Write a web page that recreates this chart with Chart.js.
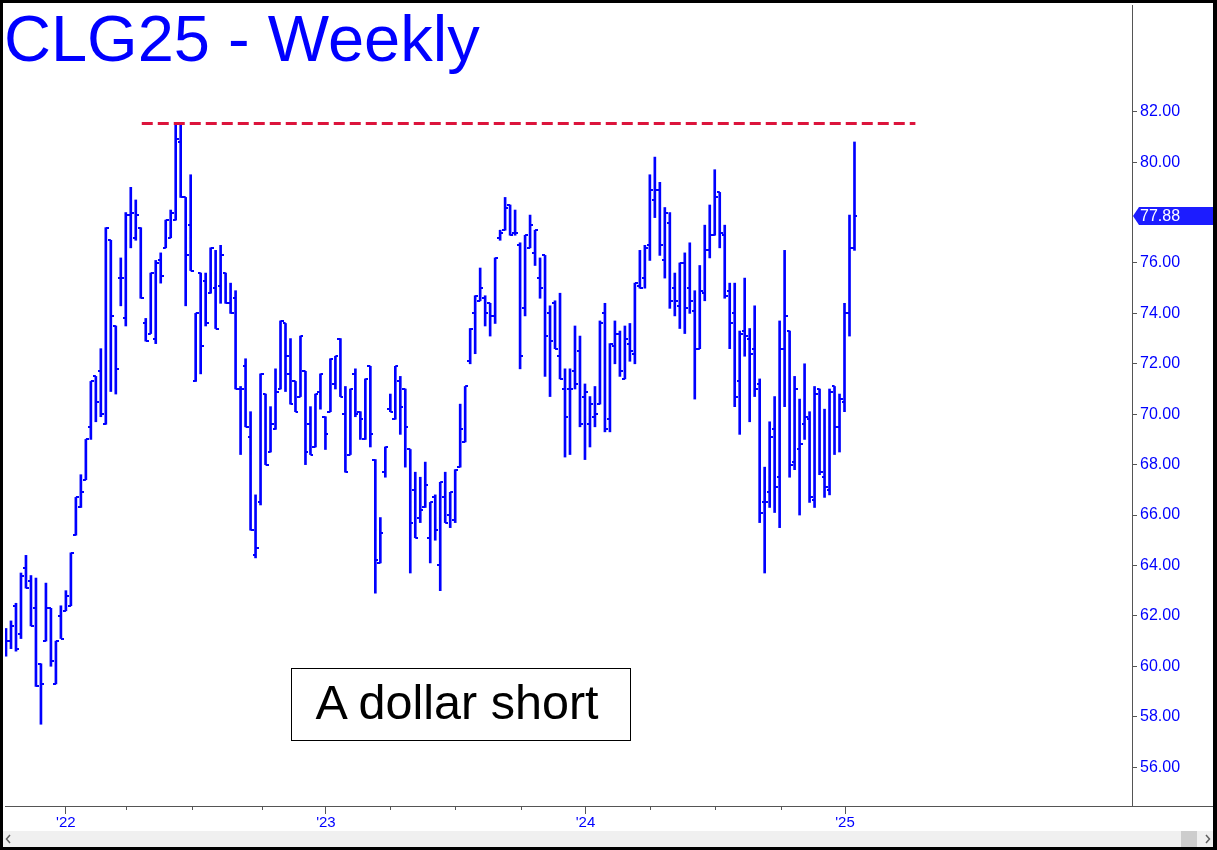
<!DOCTYPE html>
<html>
<head>
<meta charset="utf-8">
<title>CLG25 - Weekly</title>
<script src="https://cdn.jsdelivr.net/npm/chart.js@4.4.0/dist/chart.umd.min.js"></script>
<style>
    html, body { margin: 0; padding: 0; background: #000; }
    #wrap { position: relative; width: 1217px; height: 850px; overflow: hidden; }
    #chart { position: absolute; left: 0; top: 0; }
    #title {
        position: absolute; left: 4px; top: 6px;
        font: 65px "Liberation Sans", Arial, sans-serif; line-height: 65px;
        color: #0000ff; white-space: nowrap;
    }
    #note {
        position: absolute; left: 291px; top: 668px; width: 338px; height: 71px;
        border: 1px solid #000; background: #fff; color: #000;
        font: 48.5px "Liberation Sans", Arial, sans-serif;
        display: flex; align-items: center; justify-content: center;
        box-sizing: content-box; padding: 0;
    }
    #note span { position: relative; left: -4px; top: -3px; }
</style>
</head>
<body>
<div id="wrap">
    <canvas id="chart" width="1217" height="850"></canvas>
    <div id="title">CLG25 - Weekly</div>
    <div id="note"><span>A dollar short</span></div>
</div>
<script>
// Weekly bars, Oct 2021 -> Jan 2025 (one entry per week)
const opens = [
    61.4,61.0,62.4,61.3,63.9,63.4,62.3,60.1,61.0,62.3,
    59.3,62.0,62.2,62.4,65.2,66.3,67.4,69.5,71.5,71.7,
    69.6,76.9,73.5,75.4,73.8,77.9,77.0,77.4,73.6,73.2,
    73.0,76.1,76.6,77.0,77.7,80.8,78.6,77.5,71.3,75.6,
    75.3,74.8,75.0,75.1,75.6,74.4,74.6,71.0,71.9,69.1,
    64.4,66.5,70.8,68.5,69.4,71.0,73.6,71.6,71.3,70.7,
    71.7,69.6,68.7,70.9,69.9,70.1,71.2,73.0,70.0,68.4,
    71.6,70.1,69.0,71.9,68.2,64.1,67.7,70.2,69.8,71.3,
    71.0,68.6,67.0,65.9,66.3,65.1,66.7,64.0,66.7,66.0,
    65.8,67.9,68.9,72.1,74.0,74.5,74.6,74.4,73.9,77.0,
    77.3,78.3,77.2,76.7,74.2,76.6,76.4,75.4,76.3,74.0,
    74.4,72.3,71.0,71.0,71.7,72.5,70.7,69.6,69.9,70.4,
    74.0,69.8,72.7,73.2,71.4,72.8,72.4,75.1,75.4,76.7,
    78.5,78.9,76.1,77.6,75.0,74.3,76.0,75.0,74.1,72.6,
    74.8,76.5,77.1,78.8,77.1,74.9,74.0,71.3,73.3,73.0,
    72.6,71.2,66.5,66.9,69.4,67.5,72.6,73.3,68.1,68.6,
    69.6,69.8,66.6,71.0,67.5,67.0,71.1,69.5,70.5,74.0,
    76.6
];
const highs = [
    61.5,61.8,62.5,63.7,64.4,63.6,63.5,60.1,63.3,62.3,
    61.0,62.4,63.0,64.5,66.7,67.6,69.0,71.3,71.5,72.6,
    77.4,76.9,73.5,76.2,78.0,79.0,78.5,77.4,73.8,75.6,
    76.1,76.4,77.7,78.1,81.5,81.5,78.6,79.5,74.0,75.6,
    75.6,76.6,76.5,76.7,75.6,75.2,74.9,71.1,72.2,70.1,
    66.8,71.6,70.8,70.3,71.8,73.7,73.6,73.0,71.3,73.1,
    71.7,70.3,70.8,71.6,69.9,72.2,72.3,73.0,71.1,71.0,
    71.8,70.1,71.4,71.9,68.2,65.9,68.7,70.8,71.9,71.5,
    71.0,68.6,67.7,67.5,68.1,66.5,66.8,67.3,67.7,66.9,
    67.8,70.4,71.1,73.4,74.7,75.8,74.7,74.4,76.2,77.3,
    78.6,78.3,78.1,76.8,77.1,77.9,77.3,76.2,76.3,74.3,
    74.5,74.8,71.8,71.8,73.5,73.1,71.2,70.7,71.1,73.7,
    74.4,72.8,73.7,73.3,73.5,73.6,75.2,76.5,76.7,79.5,
    80.2,79.2,78.2,78.0,75.6,76.0,76.4,76.8,74.9,75.9,
    77.5,78.3,79.7,78.8,77.5,75.2,75.2,73.3,75.4,73.4,
    74.3,71.4,67.9,69.7,70.7,73.7,76.5,73.3,71.5,70.6,
    72.0,70.1,71.1,71.0,70.2,71.0,71.1,70.8,74.4,77.9,
    80.8
];
const lows = [
    60.4,60.7,60.6,61.1,63.1,61.6,59.2,57.7,61.0,60.0,
    59.3,61.1,62.2,62.4,65.2,66.3,67.4,69.0,69.7,69.9,
    69.6,70.9,70.8,74.3,73.5,76.6,76.9,74.6,72.9,73.2,
    72.8,75.2,76.6,77.0,77.7,78.6,74.3,75.7,71.3,71.6,
    73.5,74.8,73.4,74.4,74.4,74.0,71.0,68.4,69.5,65.4,
    64.3,66.4,68.0,68.5,69.4,71.0,70.9,70.4,70.1,70.7,
    68.0,68.4,68.7,70.2,68.6,70.1,71.0,70.7,67.7,68.4,
    69.9,69.0,69.0,68.7,62.9,64.1,67.5,70.1,69.8,69.2,
    67.9,63.7,65.1,65.7,66.3,64.1,65.0,63.0,65.7,65.5,
    65.7,67.9,68.9,72.0,72.4,74.5,73.5,73.1,73.6,76.9,
    77.3,77.1,77.1,71.8,73.9,76.6,75.9,74.6,71.5,70.7,
    72.6,71.4,68.3,68.4,71.0,69.5,68.2,68.7,69.5,70.4,
    69.3,69.3,72.0,71.5,71.4,72.1,72.0,75.0,75.0,76.1,
    77.8,76.3,75.4,74.2,73.9,73.4,73.2,74.0,70.6,72.6,
    74.5,76.2,77.1,76.6,74.6,72.6,70.3,69.2,72.3,69.7,
    70.7,65.7,63.7,66.3,66.1,65.5,70.3,67.5,67.8,66.0,
    69.0,66.5,66.3,67.6,66.7,66.8,68.4,68.5,70.1,73.1,
    76.5
];
const closes = [
    61.0,61.6,60.7,63.6,63.1,61.6,59.2,59.3,62.3,60.2,
    61.0,61.1,62.8,64.5,66.7,66.9,69.0,71.3,70.5,70.0,
    77.4,73.9,71.8,75.4,77.9,78.0,77.9,74.6,72.9,75.6,
    76.0,75.5,77.7,78.0,80.9,78.6,76.3,75.7,74.0,72.7,
    73.6,76.6,73.4,76.3,74.4,74.0,71.0,71.0,69.5,65.4,
    64.7,71.6,68.0,69.6,70.9,73.7,72.3,70.4,70.1,73.1,
    68.5,68.4,70.8,71.6,69.2,72.2,72.3,70.7,67.7,71.0,
    70.0,69.8,71.4,69.2,64.2,65.3,68.7,70.1,71.9,70.3,
    69.5,65.7,65.1,66.2,67.2,66.5,65.4,67.3,65.7,66.9,
    67.8,69.4,71.1,73.4,74.7,75.0,74.0,73.9,76.2,77.2,
    78.2,77.1,77.2,72.3,77.1,77.5,77.3,75.0,73.1,72.9,
    72.6,71.4,69.9,71.0,71.2,69.6,70.9,70.4,70.0,73.6,
    69.4,72.8,73.2,71.7,73.0,72.5,75.2,75.0,76.6,78.9,
    78.9,76.7,78.0,74.5,74.5,76.0,74.2,74.5,72.6,74.9,
    76.5,77.1,78.6,77.2,74.7,73.6,70.7,73.2,73.1,72.4,
    71.0,66.1,66.5,69.1,67.1,72.6,73.9,68.0,71.0,68.8,
    69.9,66.7,70.8,67.7,67.1,70.9,69.5,70.6,74.0,76.6,
    77.88
];

// axis ticks (x in week index); 78 sits under the last-price badge
const yearTicks = [12, 64.1, 116.1, 168.1];
const yearLabels = ["'22", "'23", "'24", "'25"];
const quarterTicks = [24, 37.2, 51.2, 77, 90, 103.2, 129, 142, 155.2];
const priceTicks = [56, 58, 60, 62, 64, 66, 68, 70, 72, 74, 76, 80, 82];

// resistance line
const resistanceLevel = 81.53;
const resistanceFrom = 27.2;
const resistanceTo = 182.2;

const barColor = '#0000ff';
const axisColor = '#555555';
const fontFamily = '"Liberation Sans", Arial, sans-serif';

// small canvases used as point styles for open (left) and close (right) ticks
function makeTick(side) {
    const c = document.createElement('canvas');
    c.width = 6;
    c.height = 2;
    const g = c.getContext('2d');
    g.fillStyle = barColor;
    g.fillRect(side === 'left' ? 0 : 3, 0, 3, 2);
    return c;
}

const rangeData = highs.map((h, i) => ({ x: i, y: [lows[i], h] }));
const openData = opens.map((v, i) => ({ x: i, y: v }));
const closeData = closes.map((v, i) => ({ x: i, y: v }));

const framePlugin = {
    id: 'frame',
    beforeDraw: function(chart) {
        const ctx = chart.ctx;
        const w = chart.width, h = chart.height;
        ctx.save();
        ctx.fillStyle = '#000';
        ctx.fillRect(0, 0, w, h);
        ctx.fillStyle = '#fff';
        ctx.fillRect(3, 3, w - 7, h - 6);
        // scroll bar strip at the bottom
        ctx.fillStyle = '#f0f0f0';
        ctx.fillRect(3, 831, w - 7, 16);
        ctx.fillStyle = '#cdcdcd';
        ctx.fillRect(w - 36, 831, 16, 16);
        ctx.strokeStyle = '#606060';
        ctx.lineWidth = 1.5;
        ctx.beginPath();
        ctx.moveTo(10, 835); ctx.lineTo(6.5, 839); ctx.lineTo(10, 843);
        ctx.moveTo(w - 11, 835); ctx.lineTo(w - 7.5, 839); ctx.lineTo(w - 11, 843);
        ctx.stroke();
        ctx.restore();
    },
    afterDraw: function(chart) {
        const ctx = chart.ctx;
        const xs = chart.scales.x, ys = chart.scales.y;
        ctx.save();
        ctx.strokeStyle = axisColor;
        ctx.lineWidth = 1;
        // baseline runs across the whole window
        ctx.beginPath();
        ctx.moveTo(xs.left, xs.top + 0.5);
        ctx.lineTo(chart.width - 4, xs.top + 0.5);
        ctx.stroke();
        // minor (quarter) ticks
        ctx.beginPath();
        quarterTicks.forEach(v => {
            const px = Math.round(xs.getPixelForValue(v)) + 0.5;
            ctx.moveTo(px, xs.top);
            ctx.lineTo(px, xs.top + 4);
        });
        ctx.stroke();

        // last price badge
        const last = closes[closes.length - 1];
        const py = Math.round(ys.getPixelForValue(last));
        const left = ys.left + 1;
        const right = chart.width - 4;
        ctx.fillStyle = '#1c1cff';
        ctx.beginPath();
        ctx.moveTo(left, py);
        ctx.lineTo(left + 6, py - 9);
        ctx.lineTo(right, py - 9);
        ctx.lineTo(right, py + 9);
        ctx.lineTo(left + 6, py + 9);
        ctx.closePath();
        ctx.fill();
        ctx.fillStyle = '#fff';
        ctx.font = '16px ' + fontFamily;
        ctx.textBaseline = 'middle';
        ctx.fillText(last.toFixed(2), left + 7, py + 1);
        ctx.restore();
    }
};

new Chart(document.getElementById('chart'), {
    type: 'bar',
    data: {
        datasets: [
            {
                type: 'line',
                data: [{ x: resistanceFrom, y: resistanceLevel }, { x: resistanceTo, y: resistanceLevel }],
                borderColor: '#dc143c',
                borderWidth: 3,
                borderDash: [11, 5],
                pointRadius: 0,
                fill: false
            },
            {
                type: 'scatter',
                data: openData,
                pointStyle: makeTick('left'),
                pointRadius: 3,
                showLine: false
            },
            {
                type: 'scatter',
                data: closeData,
                pointStyle: makeTick('right'),
                pointRadius: 3,
                showLine: false
            },
            {
                type: 'bar',
                data: rangeData,
                backgroundColor: barColor,
                borderWidth: 0,
                barThickness: 2,
                grouped: false
            }
        ]
    },
    options: {
        responsive: false,
        animation: false,
        devicePixelRatio: 1,
        layout: { padding: { left: 3, top: 3, right: 0, bottom: 0 } },
        plugins: {
            legend: { display: false },
            tooltip: { enabled: false }
        },
        scales: {
            x: {
                type: 'linear',
                position: 'bottom',
                min: -0.2,
                max: 225.6,
                bounds: 'data',
                offset: false,
                grid: {
                    offset: false,
                    drawOnChartArea: false,
                    drawTicks: true,
                    tickLength: 8,
                    color: axisColor
                },
                border: { display: true, color: axisColor },
                afterBuildTicks: function(scale) {
                    scale.ticks = yearTicks.map(v => ({ value: v }));
                },
                afterFit: function(scale) {
                    scale.height = 44;
                    scale.paddingLeft = 0;
                    scale.paddingRight = 0;
                },
                ticks: {
                    autoSkip: false,
                    maxRotation: 0,
                    padding: 0,
                    color: barColor,
                    font: { family: fontFamily, size: 15 },
                    callback: function(value) {
                        const k = yearTicks.indexOf(value);
                        return k >= 0 ? yearLabels[k] : '';
                    }
                }
            },
            y: {
                type: 'linear',
                position: 'right',
                min: 54.457,
                max: 86.234,
                bounds: 'data',
                grid: {
                    drawOnChartArea: false,
                    drawTicks: true,
                    tickLength: 5,
                    color: axisColor
                },
                border: { display: true, color: axisColor },
                afterBuildTicks: function(scale) {
                    scale.ticks = priceTicks.map(v => ({ value: v }));
                },
                afterFit: function(scale) {
                    scale.width = 85;
                    scale.paddingTop = 0;
                    scale.paddingBottom = 0;
                },
                ticks: {
                    autoSkip: false,
                    padding: 3,
                    color: barColor,
                    font: { family: fontFamily, size: 16 },
                    callback: function(value) {
                        return Number(value).toFixed(2);
                    }
                }
            }
        }
    },
    plugins: [framePlugin]
});
</script>
</body>
</html>
